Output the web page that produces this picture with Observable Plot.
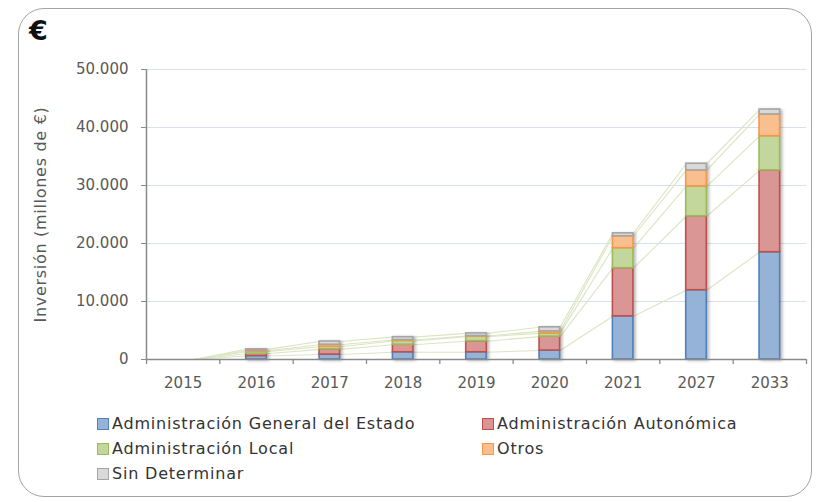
<!DOCTYPE html>
<html>
<head>
<meta charset="utf-8">
<script src="https://cdn.jsdelivr.net/npm/d3@7"></script>
<script src="https://cdn.jsdelivr.net/npm/@observablehq/plot@0.6"></script>
<style>
  body { margin: 0; background: #fff; }
  #wrap { position: relative; width: 820px; height: 502px; font-family: "DejaVu Sans", sans-serif; overflow: hidden; }
  #frame { position: absolute; left: 18px; top: 8px; width: 794px; height: 489px; border: 1.5px solid #a3a3a3; border-radius: 26px; box-sizing: border-box; pointer-events: none; }
  #euro { position: absolute; left: 29px; top: 15px; font-size: 27px; font-weight: bold; color: #111; }
  #chart { position: absolute; left: 0; top: 0; }
  .lg { position: absolute; font-size: 16px; letter-spacing: 0.8px; color: #333; line-height: 18px; white-space: nowrap; }
  .sw { position: absolute; width: 10px; height: 10px; border: 1.5px solid; }
</style>
</head>
<body>
<div id="wrap">
  <div id="chart"></div>
  <div id="euro">€</div>
  <div id="legend"></div>
  <div id="frame"></div>
</div>
<script>
// ---- data ----
const years = ["2015", "2016", "2017", "2018", "2019", "2020", "2021", "2027", "2033"];
const seriesNames = ["Administración General del Estado", "Administración Autonómica", "Administración Local", "Otros", "Sin Determinar"];
const ageValues    = [0, 600, 850, 1250, 1250, 1550, 7450, 11950, 18500];
const autoValues   = [0, 400, 900, 1300, 1900, 2400, 8300, 12750, 14100];
const localValues  = [0, 350, 450, 650, 800, 550, 3450, 5150, 5900];
const otrosValues  = [0, 150, 350, 150, 100, 350, 2050, 2750, 3750];
const sinDetValues = [0, 250, 550, 500, 450, 700, 500, 1150, 850];
const yTicks = [0, 10000, 20000, 30000, 40000, 50000];
const yLabel = "Inversión (millones de €)";

// ---- styles ----
const fills   = ["#95b3d7", "#da9694", "#c3d69b", "#fabf8f", "#d9d9d9"];
const strokes = ["#4f81bd", "#c0504d", "#9bbb59", "#f79646", "#a5a5a5"];

const seriesValues = [ageValues, autoValues, localValues, otrosValues, sinDetValues];
const hw = 0.14; // half bar width in category units

// stacked segments
const segments = [];
const cumTops = seriesValues.map(() => []);
years.forEach((yr, i) => {
  let base = 0;
  seriesValues.forEach((vals, k) => {
    const top = base + vals[i];
    if (vals[i] > 0) segments.push({i, k, y1: base, y2: top});
    cumTops[k][i] = top;
    base = top;
  });
});

// series lines connecting segment tops of adjacent bars
const seriesLines = [];
cumTops.forEach((tops) => {
  for (let i = 0; i < years.length - 1; i++) {
    seriesLines.push({x1: i + hw, y1: tops[i], x2: i + 1 - hw, y2: tops[i + 1]});
  }
});

const loc = d3.formatLocale({decimal: ",", thousands: ".", grouping: [3], currency: ["", "€"]});
const fmt = loc.format(",");
const idx = years.map((d, i) => i);
const bounds = d3.range(years.length + 1).map(i => i - 0.5);

const chart = Plot.plot({
  width: 820,
  height: 400,
  marginTop: 69,
  marginBottom: 41,
  marginLeft: 146,
  marginRight: 14,
  style: {background: "transparent", fontFamily: "DejaVu Sans, sans-serif", fontSize: "15px", color: "#595959", overflow: "visible"},
  x: {domain: [-0.5, years.length - 0.5], axis: null},
  y: {domain: [0, 50000], axis: null},
  color: {type: "identity"},
  marks: [
    Plot.gridY(yTicks.filter(d => d > 0), {stroke: "#d6e0f0", strokeOpacity: 1, strokeWidth: 1.2}),
    Plot.link(seriesLines, {x1: "x1", y1: "y1", x2: "x2", y2: "y2", stroke: "#dbe5c4", strokeWidth: 1.1}),
    Plot.rect(segments, {
      x1: d => d.i - hw, x2: d => d.i + hw, y1: "y1", y2: "y2",
      fill: d => fills[d.k], stroke: d => strokes[d.k], strokeWidth: 1.6
    }),
    Plot.ruleY([0], {stroke: "#8a8a8a", strokeWidth: 1.5}),
    Plot.ruleX([-0.5], {stroke: "#8a8a8a", strokeWidth: 1.5}),
    Plot.axisY({ticks: yTicks, tickFormat: fmt, tickSize: 5, tickPadding: 13, stroke: "#8a8a8a", fill: "#595959",
      label: yLabel, labelAnchor: "center", labelOffset: 112, labelArrow: "none"}),
    Plot.axisX({ticks: bounds, tickFormat: () => "", tickSize: 5, stroke: "#8a8a8a", strokeWidth: 1.3}),
    Plot.axisX({ticks: idx, tickFormat: i => years[i], tickSize: 0, tickPadding: 18, fill: "#595959"})
  ]
});
document.getElementById("chart").appendChild(chart);
d3.select(chart).selectAll("g[aria-label=rect]").style("filter", "drop-shadow(2px 1px 1.5px rgba(0,0,0,0.28))");
d3.select(chart).selectAll("g[aria-label='y-axis label'] text, g[aria-label='y-axis label']")
  .style("font-size", "16px").style("letter-spacing", "0.7px");

// legend
const legendPos = [[97, 424], [482, 424], [97, 449], [482, 449], [97, 474]];
const lg = d3.select("#legend");
seriesNames.forEach((name, k) => {
  const [x, y] = legendPos[k];
  lg.append("div").attr("class", "sw")
    .style("left", x + "px").style("top", (y - 6) + "px")
    .style("background", fills[k]).style("border-color", strokes[k]);
  lg.append("div").attr("class", "lg")
    .style("left", (x + 15) + "px").style("top", (y - 9) + "px")
    .text(name);
});
</script>
</body>
</html>
